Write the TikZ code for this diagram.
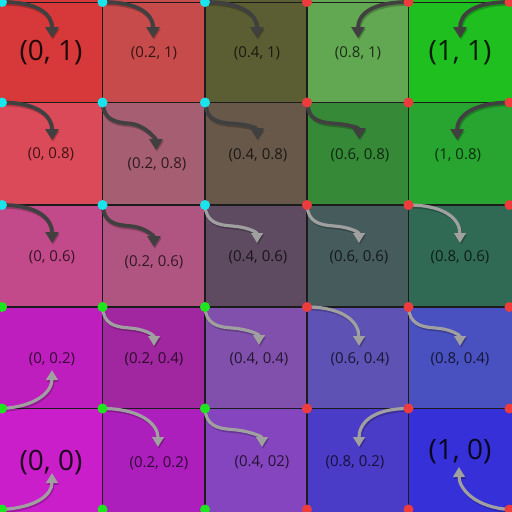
\documentclass[tikz,border=0pt]{standalone}
\usepackage{fontspec}
\setmainfont{Open Sans}
\usetikzlibrary{arrows.meta,calc}
\definecolor{arrdark}{HTML}{404040}
\definecolor{arrlight}{HTML}{A0A0A0}
\definecolor{dotcyan}{HTML}{1AE5EC}
\definecolor{dotred}{HTML}{EE3B3B}
\definecolor{dotgreen}{HTML}{1EE61E}
\definecolor{gridcol}{HTML}{1C1C1C}
\tikzset{
  dotnode/.style={circle,inner sep=0pt,minimum size=10pt,draw=none},
  smalllbl/.style={font=\fontsize{15}{18}\selectfont,text=black,text opacity=0.72,inner sep=0pt},
  biglbl/.style={font=\fontsize{28}{32}\selectfont,text=black,text opacity=0.85,inner sep=0pt},
  darkarr/.style={draw=arrdark,line width=3.8pt,-{Triangle[width=13pt,length=11pt]}},
  lightarr/.style={draw=arrlight,line width=3.2pt,-{Triangle[width=11.5pt,length=10pt]}},
  shadowst/.style={draw=black,opacity=0.22,transform canvas={shift={(1pt,-1.8pt)}}},
  gridline/.style={draw=gridcol,line width=1.3pt}
}
\newcommand\shadowed[2]{\draw[#1,shadowst] #2; \draw[#1] #2;}
\newcommand\Rarr[3]{\shadowed{#1}{(#2.center) .. controls ($(#2)+(36,0)$) and ($(#3)+(0,-24)$) .. (#3)}}
\newcommand\Larr[3]{\shadowed{#1}{(#2.center) .. controls ($(#2)+(-36,0)$) and ($(#3)+(0,-24)$) .. (#3)}}
\newcommand\Uarr[3]{\shadowed{#1}{(#2.center) .. controls ($(#2)+(34,-2)$) and ($(#3)+(0,22)$) .. (#3)}}
\newcommand\ULarr[3]{\shadowed{#1}{(#2.center) .. controls ($(#2)+(-34,-2)$) and ($(#3)+(0,22)$) .. (#3)}}
\newcommand\Sarr[3]{\shadowed{#1}{(#2.center) .. controls ($(#2)+(1,17)$) and ($(#2)+(12,20)$) .. ($(#2)+(27,21)$) .. controls ($(#2)+(42,22)$) and ($(#3)+(0,-11)$) .. (#3)}}
\begin{document}
\begin{tikzpicture}[x=1pt,y=-1pt]
\useasboundingbox (0,0) rectangle (512,512);
% cells
\foreach \c/\xa/\xb in {0/0/102.5,1/102.5/205,2/205/307,3/307/408.5,4/408.5/512}{
  \foreach \r/\ya/\yb in {0/0/102.5,1/102.5/205,2/205/307,3/307/408.5,4/408.5/512}{
    \coordinate (cellA\c\r) at (\xa,\ya);
    \coordinate (cellB\c\r) at (\xb,\yb);
  }
}
\foreach \c/\r/\col in {0/0/D7393B,1/0/C74B4B,2/0/5B5E32,3/0/62A752,4/0/1FBF1F,
  0/1/DB4A58,1/1/A55E72,2/1/67584A,3/1/368A37,4/1/27A530,
  0/2/C2498A,1/2/B05581,2/2/5E4A61,3/2/465C5C,4/2/306A55,
  0/3/BE1EBE,1/3/A027A0,2/3/8150AD,3/3/5E52B5,4/3/4950BF,
  0/4/CA1ECB,1/4/AD1FBD,2/4/8545BF,3/4/4B3CC8,4/4/3530D8}{
  \definecolor{tmpcell}{HTML}{\col}
  \fill[tmpcell] (cellA\c\r) rectangle (cellB\c\r);
}
% grid lines
\foreach \v in {102.5,205,307,408.5}{
  \draw[gridline] (\v,0) -- (\v,512);
  \draw[gridline] (0,\v) -- (512,\v);
}
\draw[gridline] (0,2.5) -- (512,2.5);
% grid corner coordinates
\foreach \i/\x in {0/2,1/102.5,2/205,3/307,4/408.5,5/509.5}{
  \foreach \j/\y in {0/2,1/102.5,2/205,3/307,4/408.5,5/509.5}{
    \coordinate (g\i\j) at (\x,\y);
  }
}
% labels
\node[biglbl] (l00) at (51,53) {(0, 1)};
\node[smalllbl] (l10) at (154,53) {(0.2, 1)};
\node[smalllbl] (l20) at (257,53) {(0.4, 1)};
\node[smalllbl] (l30) at (358,53) {(0.8, 1)};
\node[biglbl] (l40) at (460,53) {(1, 1)};
\node[smalllbl] (l01) at (51,154) {(0, 0.8)};
\node[smalllbl] (l11) at (157,164) {(0.2, 0.8)};
\node[smalllbl] (l21) at (258,155) {(0.4, 0.8)};
\node[smalllbl] (l31) at (360,155) {(0.6, 0.8)};
\node[smalllbl] (l41) at (458,155) {(1, 0.8)};
\node[smalllbl] (l02) at (52,257) {(0, 0.6)};
\node[smalllbl] (l12) at (154,262) {(0.2, 0.6)};
\node[smalllbl] (l22) at (258,257) {(0.4, 0.6)};
\node[smalllbl] (l32) at (359,257) {(0.6, 0.6)};
\node[smalllbl] (l42) at (460,257) {(0.8, 0.6)};
\node[smalllbl] (l03) at (52,359) {(0, 0.2)};
\node[smalllbl] (l13) at (154,359) {(0.2, 0.4)};
\node[smalllbl] (l23) at (259,359) {(0.4, 0.4)};
\node[smalllbl] (l33) at (360,359) {(0.6, 0.4)};
\node[smalllbl] (l43) at (460,359) {(0.8, 0.4)};
\node[biglbl] (l04) at (51,463) {(0, 0)};
\node[smalllbl] (l14) at (159,463) {(0.2, 0.2)};
\node[smalllbl] (l24) at (262,462) {(0.4, 02)};
\node[smalllbl] (l34) at (355,462) {(0.8, 0.2)};
\node[biglbl] (l44) at (460,452) {(1, 0)};
% arrow tips
\coordinate (t00) at (52,38);
\coordinate (t10) at (153,38);
\coordinate (t20) at (257,38);
\coordinate (t30) at (358,38);
\coordinate (t40) at (460,38);
\coordinate (t01) at (52,140);
\coordinate (t11) at (156,150);
\coordinate (t21) at (257,139);
\coordinate (t31) at (359,139);
\coordinate (t41) at (457,140);
\coordinate (t02) at (52,243);
\coordinate (t12) at (154,247);
\coordinate (t22) at (257,243);
\coordinate (t32) at (359,243);
\coordinate (t42) at (460,243);
\coordinate (t03) at (52,370);
\coordinate (t13) at (154,346);
\coordinate (t23) at (259,345);
\coordinate (t33) at (359,346);
\coordinate (t43) at (460,346);
\coordinate (t04) at (52,473);
\coordinate (t14) at (158,447);
\coordinate (t24) at (262,447);
\coordinate (t34) at (359,447);
\coordinate (t44) at (459,467);
% dots (nodes, drawn later on top)
\foreach \i in {0,1,2}{\foreach \j in {0,1,2}{\node[dotnode] (d\i\j) at (g\i\j) {};}}
\foreach \i in {0,1,2}{\foreach \j in {3,4,5}{\node[dotnode] (d\i\j) at (g\i\j) {};}}
\foreach \i in {3,4,5}{\foreach \j in {0,1,2,3,4,5}{\node[dotnode] (d\i\j) at (g\i\j) {};}}
% arrows
\Rarr{darkarr}{d00}{t00}
\Rarr{darkarr}{d10}{t10}
\Rarr{darkarr}{d20}{t20}
\Larr{darkarr}{d40}{t30}
\Larr{darkarr}{d50}{t40}
\Rarr{darkarr}{d01}{t01}
\Sarr{darkarr}{d11}{t11}
\Sarr{darkarr}{d21}{t21}
\Sarr{darkarr}{d31}{t31}
\Larr{darkarr}{d51}{t41}
\Rarr{darkarr}{d02}{t02}
\Sarr{darkarr}{d12}{t12}
\Sarr{lightarr}{d22}{t22}
\Sarr{lightarr}{d32}{t32}
\Rarr{lightarr}{d42}{t42}
\Uarr{lightarr}{d04}{t03}
\Sarr{lightarr}{d13}{t13}
\Sarr{lightarr}{d23}{t23}
\Rarr{lightarr}{d33}{t33}
\Sarr{lightarr}{d43}{t43}
\Uarr{lightarr}{d05}{t04}
\Rarr{lightarr}{d14}{t14}
\Sarr{lightarr}{d24}{t24}
\Larr{lightarr}{d44}{t34}
\ULarr{lightarr}{d55}{t44}
% dot fills on top
\foreach \i in {0,1,2}{\foreach \j in {0,1,2}{\fill[dotcyan] (d\i\j) circle[radius=5pt];}}
\foreach \i in {0,1,2}{\foreach \j in {3,4,5}{\fill[dotgreen] (d\i\j) circle[radius=5pt];}}
\foreach \i in {3,4,5}{\foreach \j in {0,1,2,3,4,5}{\fill[dotred] (d\i\j) circle[radius=5pt];}}
\end{tikzpicture}
\end{document}
